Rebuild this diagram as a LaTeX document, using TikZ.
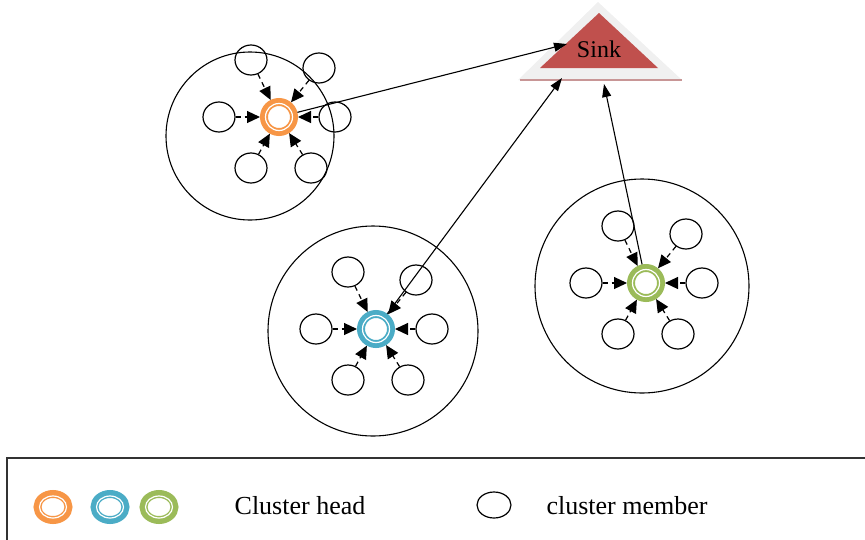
\documentclass[tikz,border=0pt]{standalone}
\usepackage{fontspec}
\setmainfont{Liberation Serif}
\usetikzlibrary{arrows.meta, shapes.geometric, calc}

\begin{document}
\begin{tikzpicture}[x=1pt, y=-1pt,
  member/.style={draw, ellipse, line width=1.2pt, minimum width=32pt, minimum height=30pt, inner sep=0pt},
  head/.style={circle, draw=#1, line width=8pt, fill=white, minimum size=30pt, inner sep=0pt, outer sep=4pt},
  ring/.style={white, line width=1.2pt},
  cluster/.style={draw, circle, line width=1.1pt, inner sep=0pt},
  feed/.style={line width=1.2pt, dash pattern=on 5pt off 4pt, -{Triangle[length=13pt,width=12pt]}},
  uplink/.style={line width=1.1pt, -{Triangle[length=13pt,width=9pt]}},
  label/.style={font=\fontsize{26}{30}\selectfont, inner sep=0pt}]
% Define colors
\definecolor{chorange}{RGB}{247, 150, 70}
\definecolor{chblue}{RGB}{75, 172, 198}
\definecolor{chgreen}{RGB}{155, 187, 89}
\definecolor{sinkred}{RGB}{192, 80, 77}
\definecolor{sinkgray}{RGB}{240, 240, 240}
\definecolor{sinkline}{RGB}{200, 150, 150}

\useasboundingbox (0,0) rectangle (865,539);

% Sink
\fill[sinkgray] (518,80) -- (598,2) -- (682,80) -- cycle;
\draw[sinkline, line width=2pt] (520,80) -- (682,80);
\fill[sinkred] (540,68) -- (599,13) -- (658,68) -- cycle;
\node[font=\fontsize{24}{28}\selectfont, inner sep=0pt] (sink) at (599,49) {Sink};
\coordinate (s1) at (567,44);
\coordinate (s2) at (562,78);
\coordinate (s3) at (604,84);

% Cluster borders
\node[cluster, minimum size=168pt] (c1) at (250,136) {};
\node[cluster, minimum size=210pt] (c2) at (373,331) {};
\node[cluster, minimum size=214pt] (c3) at (642,286) {};

% Cluster heads
\node[head=chorange] (h1) at (279,117) {};
\node[head=chblue] (h2) at (376,329) {};
\node[head=chgreen] (h3) at (646,283) {};
\foreach \h in {h1,h2,h3}
  \draw[ring] (\h) circle (13.5pt);

% Members and their links to the head
\foreach \c in {1,2,3} {
  \foreach \i/\dx/\dy in {1/-28/-57, 2/40/-49, 3/-60/0, 4/56/0, 5/-28/51, 6/32/51} {
    \node[member] (m\c\i) at ($(h\c)+(\dx,\dy)$) {};
    \draw[feed] (m\c\i) -- (h\c);
  }
}

% Links to the sink
\draw[uplink] (h1) -- (s1);
\draw[uplink] (h2) -- (s2);
\draw[uplink] (h3) -- (s3);

% Legend
\draw[line width=1.2pt, black!80] (7,458) rectangle (880,560);
\node[head=chorange, ellipse, minimum width=31pt, minimum height=26pt] (lg1) at (53,507) {};
\node[head=chblue, ellipse, minimum width=31pt, minimum height=26pt] (lg2) at (110,507) {};
\node[head=chgreen, ellipse, minimum width=31pt, minimum height=26pt] (lg3) at (159,507) {};
\foreach \h in {lg1,lg2,lg3}
  \draw[ring] (\h) ellipse (13.5pt and 11pt);
\node[label] (lgh) at (300,506) {Cluster head};
\node[member, minimum width=34pt, minimum height=26pt] (lgm) at (494,505) {};
\node[label] (lgmt) at (627,506) {cluster member};
\end{tikzpicture}
\end{document}
